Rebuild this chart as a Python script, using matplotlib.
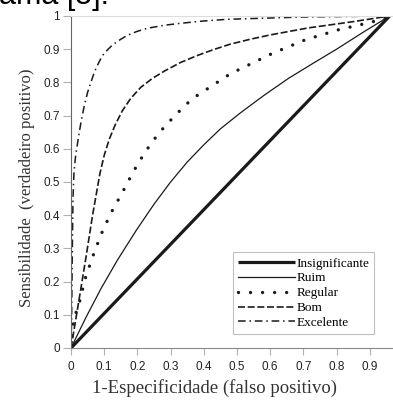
import matplotlib
matplotlib.use('Agg')
import matplotlib.pyplot as plt

# curves (x = 1-especificidade, y = sensibilidade)
insig_x = [0.0, 0.96]
insig_y = [0.0, 1.0]

ruim_x = [0.0, 0.045, 0.091, 0.14, 0.197, 0.25, 0.30, 0.35, 0.40, 0.45, 0.51,
          0.58, 0.655, 0.73, 0.80, 0.88, 0.96]
ruim_y = [0.0, 0.092, 0.18, 0.265, 0.355, 0.433, 0.50, 0.56, 0.612, 0.66, 0.708,
          0.76, 0.812, 0.858, 0.90, 0.951, 1.0]

regular_x = [0.0, 0.006, 0.016, 0.026, 0.043, 0.066, 0.091, 0.12, 0.154, 0.187, 0.223,
             0.265, 0.313, 0.364, 0.425, 0.48, 0.544, 0.608, 0.705, 0.804, 0.907, 0.96]
regular_y = [0.0, 0.07, 0.11, 0.14, 0.21, 0.277, 0.343, 0.406, 0.467, 0.53, 0.59,
             0.648, 0.70, 0.75, 0.79, 0.826, 0.857, 0.888, 0.928, 0.958, 0.982, 1.0]

bom_x = [0.0, 0.025, 0.047, 0.065, 0.087, 0.10, 0.115, 0.133, 0.155, 0.18, 0.21, 0.245,
         0.283, 0.33, 0.383, 0.43, 0.479, 0.54, 0.6, 0.714, 0.85, 0.96]
bom_y = [0.0, 0.15, 0.285, 0.40, 0.525, 0.58, 0.628, 0.672, 0.715, 0.752, 0.785, 0.812,
         0.835, 0.86, 0.882, 0.899, 0.915, 0.93, 0.943, 0.964, 0.983, 1.0]

exc_x = [0.0, 0.002, 0.004, 0.006, 0.009, 0.014, 0.021, 0.03, 0.04, 0.05, 0.06, 0.07,
         0.08, 0.09, 0.10, 0.125, 0.15, 0.17, 0.2, 0.23, 0.28, 0.33, 0.4, 0.47, 0.7, 0.96]
exc_y = [0.0, 0.1, 0.3, 0.45, 0.53, 0.58, 0.625, 0.68, 0.73, 0.77, 0.80, 0.83,
         0.852, 0.872, 0.888, 0.913, 0.93, 0.942, 0.954, 0.963, 0.972, 0.978, 0.985, 0.99, 0.997, 1.0]

xticks = [0, 0.1, 0.2, 0.3, 0.4, 0.5, 0.6, 0.7, 0.8, 0.9]
xlabels = ['0', '0.1', '0.2', '0.3', '0.4', '0.5', '0.6', '0.7', '0.8', '0.9']
yticks = [0, 0.1, 0.2, 0.3, 0.4, 0.5, 0.6, 0.7, 0.8, 0.9, 1]
ylabels = ['0', '0.1', '0.2', '0.3', '0.4', '0.5', '0.6', '0.7', '0.8', '0.9', '1']

fig = plt.figure(figsize=(3.93, 4.01), dpi=100)
ax = fig.add_axes([71/393, 53/401, 322/393, 332/401])

c = '#1a1a1a'
ax.plot(insig_x, insig_y, color=c, lw=2.3, solid_capstyle='butt', label='Insignificante')
ax.plot(ruim_x, ruim_y, color=c, lw=0.9, label='Ruim')
ax.plot(regular_x, regular_y, color=c, lw=2.4, dashes=(0.01, 3.6),
        dash_capstyle='round', label='Regular')
ax.plot(bom_x, bom_y, color=c, lw=1.2, dashes=(4.2, 1.6), label='Bom')
ax.plot(exc_x, exc_y, color=c, lw=1.1, dashes=(5, 2.5, 1, 2.5), label='Excelente')

ax.set_xlim(0, 0.97)
ax.set_ylim(0, 1)
ax.set_xticks(xticks)
ax.set_xticklabels(xlabels, family='Liberation Sans', fontsize=8.5, color='#222')
ax.set_yticks(yticks)
ax.set_yticklabels(ylabels, family='Liberation Sans', fontsize=8.5, color='#222')
ax.tick_params(axis='x', length=5, width=0.8, color='#b0b0b0', pad=4)
ax.tick_params(axis='y', length=6, width=0.8, color='#b0b0b0', pad=2)

ax.spines['left'].set_color('#666666')
ax.spines['bottom'].set_color('#888888')
ax.spines['top'].set_color('#dddddd')
ax.spines['right'].set_visible(False)

ax.set_xlabel('1-Especificidade (falso positivo)', family='Liberation Serif',
              fontsize=13.5, color='#333')
ax.xaxis.set_label_coords(0.446, -0.095)
ax.set_ylabel('Sensibilidade  (verdadeiro positivo)', family='Liberation Serif',
              fontsize=12, color='#333')
ax.yaxis.set_label_coords(-0.112, 0.483)

leg = ax.legend(loc='upper left', bbox_to_anchor=(233/393, 1 - 252/401),
                bbox_transform=fig.transFigure, borderaxespad=0,
                prop={'family': 'Liberation Serif', 'size': 9.5},
                handlelength=4.3, handletextpad=0.1, labelspacing=0.2,
                borderpad=0.4, fancybox=False, framealpha=1)
leg.get_frame().set_edgecolor('#c0c0c0')
leg.get_frame().set_linewidth(0.8)

# bit of the page text above the figure
fig.text(-0.003, 1 - 4/401, 'ama [5].', family='Liberation Sans', fontsize=22,
         va='baseline', ha='left', color='black')

fig.savefig('out.png', dpi=100)
